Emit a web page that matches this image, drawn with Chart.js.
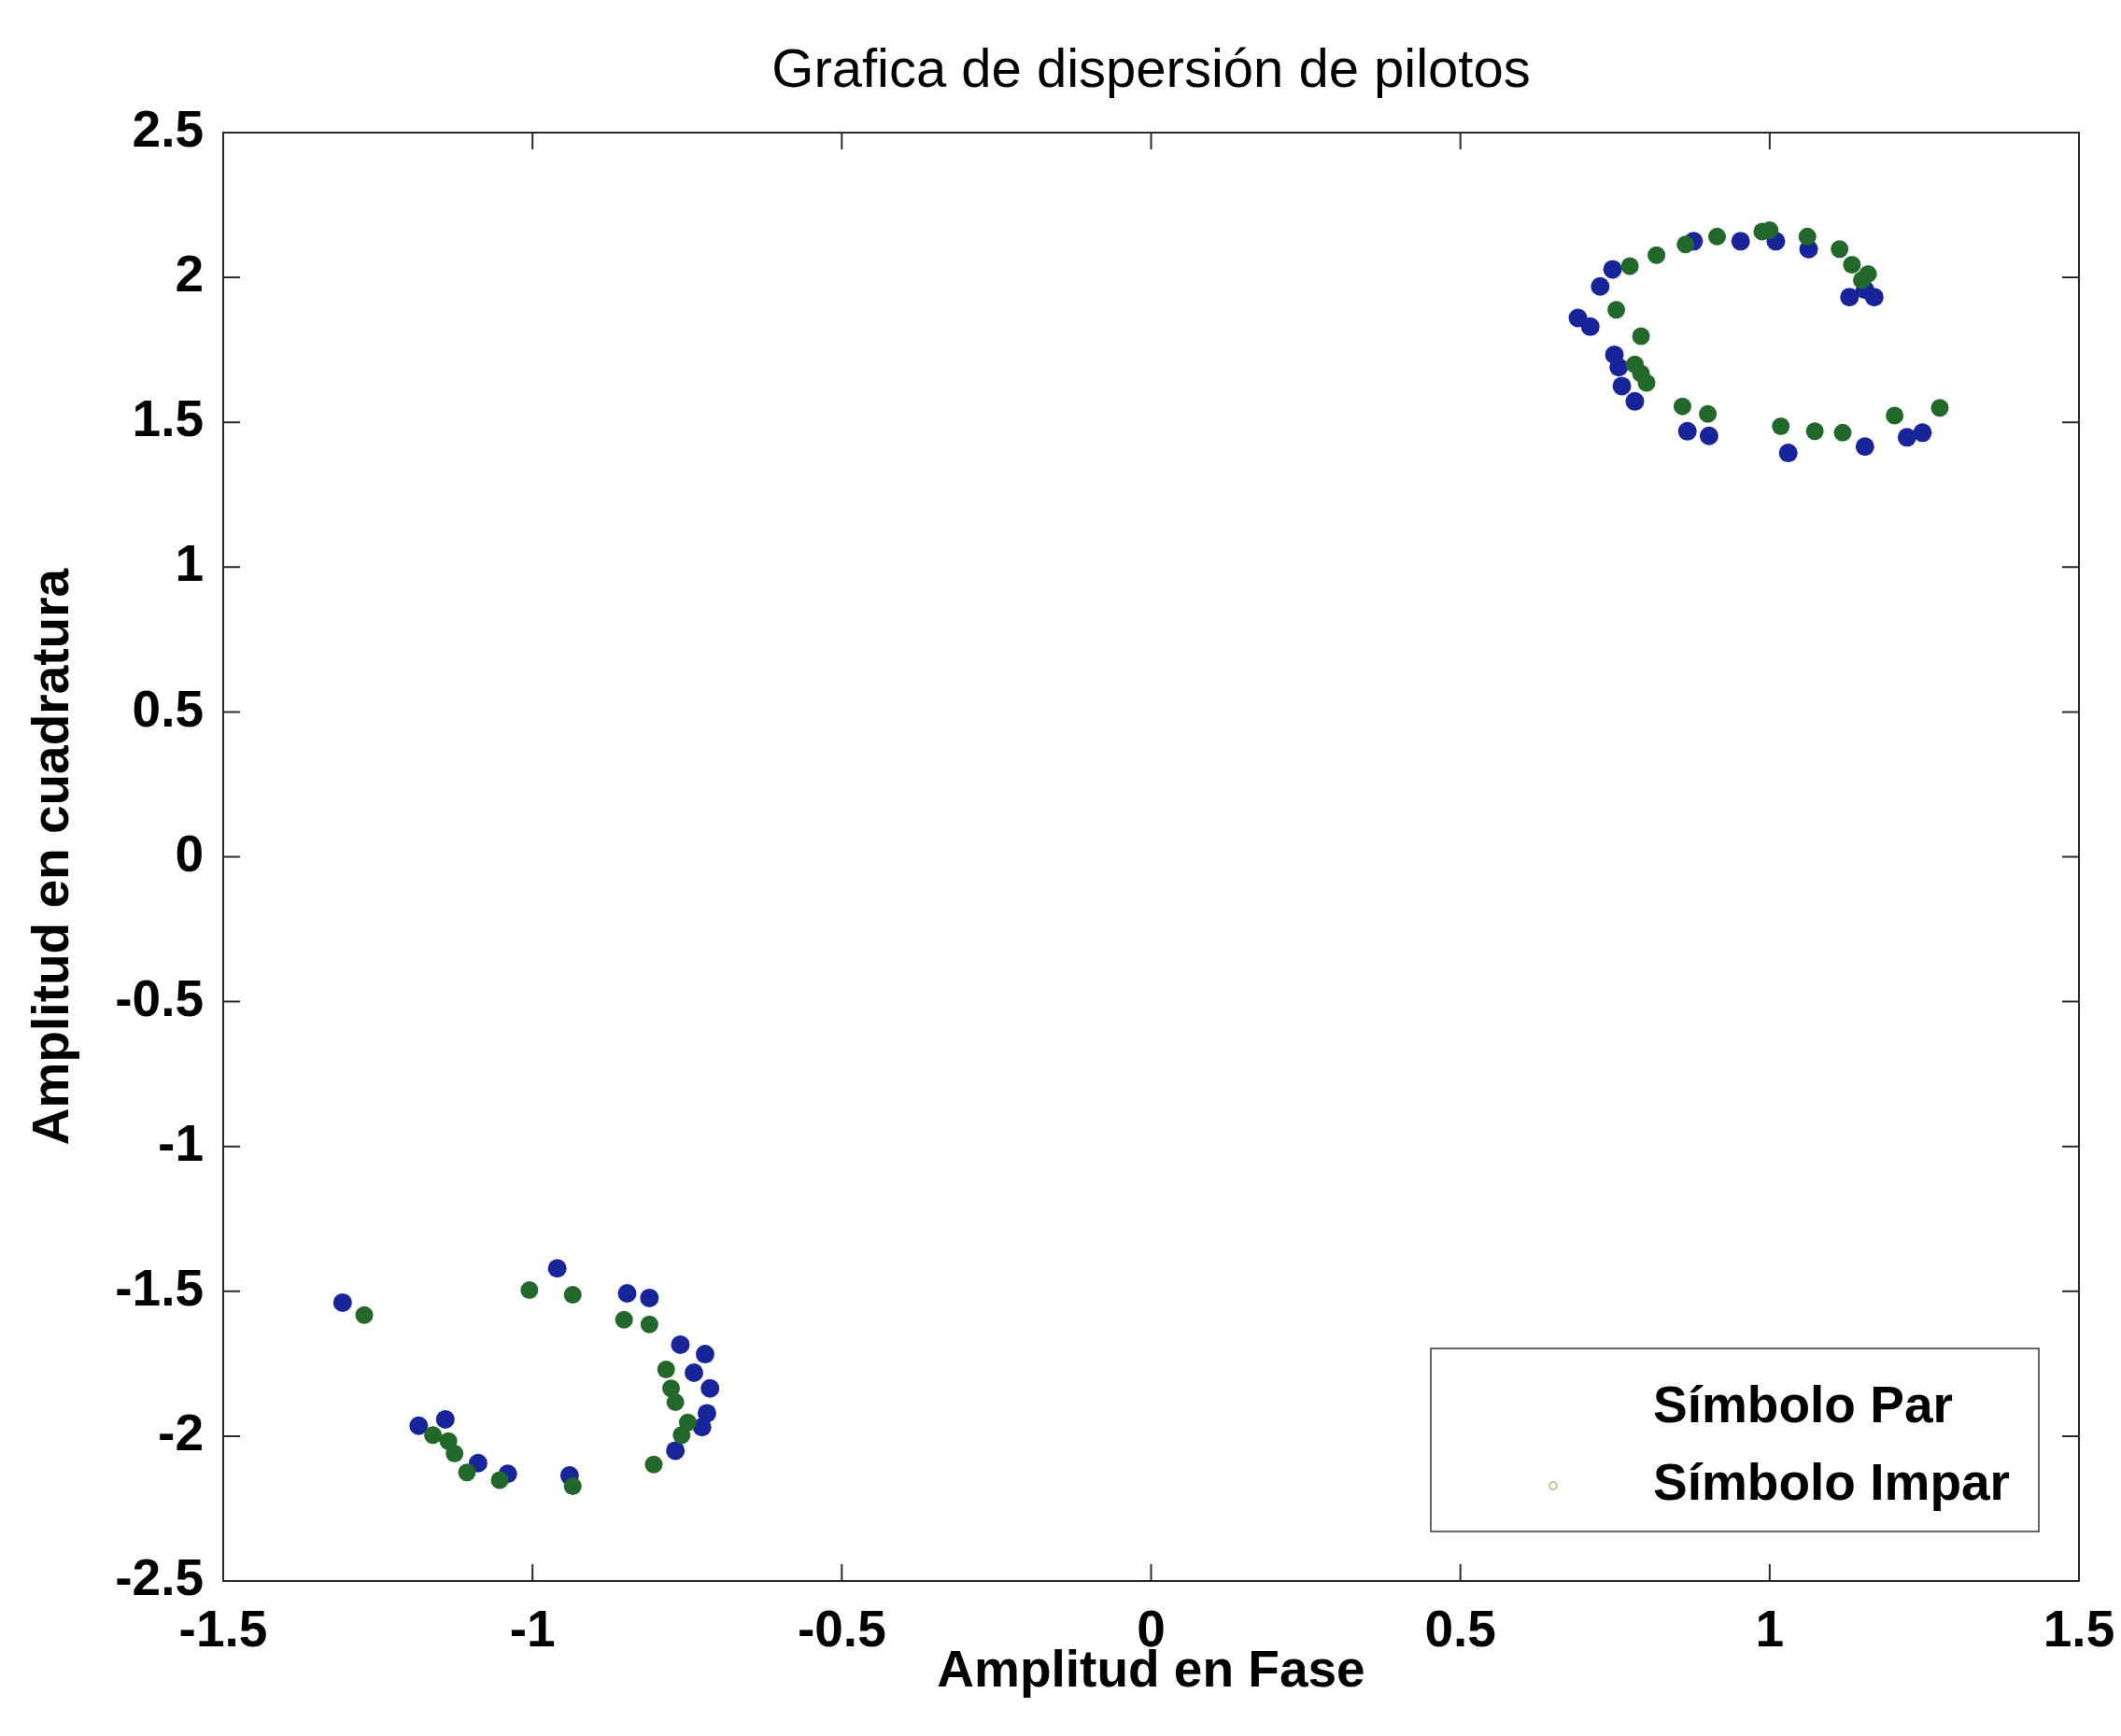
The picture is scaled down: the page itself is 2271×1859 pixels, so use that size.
<!DOCTYPE html>
<html>
<head>
<meta charset="utf-8">
<title>Grafica de dispersión de pilotos</title>
<script src="https://cdn.jsdelivr.net/npm/chart.js@4.4.1/dist/chart.umd.min.js"></script>
<style>
    html, body { margin: 0; padding: 0; background: #fff; }
    canvas { display: block; }
</style>
</head>
<body>
<canvas id="scatterChart" width="2271" height="1859"></canvas>
<script>
// Pilotos del símbolo par (azul)
const parX = [0.690, 0.710, 0.726, 0.746, 0.877, 0.953, 1.010, 1.063, 1.129, 1.169, 1.154,
              0.749, 0.756, 0.761, 0.782, 0.867, 0.902, 1.030, 1.154, 1.222, 1.247,
              -1.307, -0.960, -0.847, -0.811, -0.761, -0.721, -0.739, -0.713, -0.718, -0.726,
              -0.769, -1.184, -1.141, -1.088, -1.040, -0.940];
const parY = [1.860, 1.830, 1.969, 2.028, 2.125, 2.125, 2.125, 2.098, 1.932, 1.932, 1.958,
              1.733, 1.690, 1.625, 1.572, 1.469, 1.453, 1.394, 1.416, 1.448, 1.464,
              -1.539, -1.421, -1.507, -1.523, -1.684, -1.717, -1.781, -1.835, -1.921, -1.969,
              -2.050, -1.964, -1.942, -2.093, -2.130, -2.136];

// Pilotos del símbolo impar (verde)
const imparX = [0.774, 0.817, 0.864, 0.915, 0.988, 1.000, 1.061, 1.113, 1.133, 1.159, 1.149,
                0.752, 0.792, 0.782, 0.792, 0.801, 0.859, 0.900, 1.018, 1.073, 1.118, 1.202, 1.275,
                -1.272, -1.005, -0.935, -0.852, -0.811, -0.784, -0.776, -0.769, -0.749, -0.759,
                -0.804, -1.161, -1.136, -1.126, -1.106, -1.053, -0.935];
const imparY = [2.039, 2.077, 2.114, 2.141, 2.158, 2.163, 2.141, 2.098, 2.044, 2.012, 1.991,
                1.888, 1.797, 1.700, 1.668, 1.636, 1.555, 1.529, 1.486, 1.469, 1.464, 1.523, 1.550,
                -1.582, -1.496, -1.512, -1.598, -1.614, -1.770, -1.835, -1.883, -1.953, -1.996,
                -2.098, -1.996, -2.017, -2.060, -2.125, -2.152, -2.173];

const xTicks = [-1.5, -1, -0.5, 0, 0.5, 1, 1.5];
const yTicks = [-2.5, -2, -1.5, -1, -0.5, 0, 0.5, 1, 1.5, 2, 2.5];

const chartTitle = 'Grafica de dispersión de pilotos';
const xLabel = 'Amplitud en Fase';
const yLabel = 'Amplitud en cuadratura';
const seriesNames = ['Símbolo Par', 'Símbolo Impar'];

const FONT = '"Liberation Sans", Arial, Helvetica, sans-serif';
Chart.defaults.font.family = FONT;
Chart.defaults.color = '#000';

function toPoints(xs, ys) {
    return xs.map((x, i) => ({ x: x, y: ys[i] }));
}

// Box around the plot with inward ticks on all four sides
const frameTicks = {
    id: 'frameTicks',
    afterDraw(chart) {
        const { ctx, chartArea: a, scales } = chart;
        const len = 18;
        ctx.save();
        ctx.strokeStyle = '#2a2a2a';
        ctx.lineWidth = 2;
        ctx.strokeRect(a.left, a.top, a.right - a.left, a.bottom - a.top);
        ctx.beginPath();
        xTicks.forEach(v => {
            const px = scales.x.getPixelForValue(v);
            ctx.moveTo(px, a.bottom); ctx.lineTo(px, a.bottom - len);
            ctx.moveTo(px, a.top); ctx.lineTo(px, a.top + len);
        });
        yTicks.forEach(v => {
            const py = scales.y.getPixelForValue(v);
            ctx.moveTo(a.left, py); ctx.lineTo(a.left + len, py);
            ctx.moveTo(a.right, py); ctx.lineTo(a.right - len, py);
        });
        ctx.stroke();
        ctx.restore();
    }
};

// Title centred over the plot area
const plotTitle = {
    id: 'plotTitle',
    afterDraw(chart) {
        const { ctx, chartArea: a } = chart;
        ctx.save();
        ctx.font = '58px ' + FONT;
        ctx.fillStyle = '#000';
        ctx.textAlign = 'center';
        ctx.textBaseline = 'middle';
        ctx.fillText(chartTitle, (a.left + a.right) / 2, a.top - 65);
        ctx.restore();
    }
};

// Legend box in the lower right corner of the plot
const legendBox = {
    id: 'legendBox',
    afterDraw(chart) {
        const { ctx, chartArea: a } = chart;
        const w = 651, h = 196;
        const right = a.right - 43, bottom = a.bottom - 53;
        const left = right - w, top = bottom - h;
        ctx.save();
        ctx.fillStyle = '#fff';
        ctx.fillRect(left, top, w, h);
        ctx.strokeStyle = '#333';
        ctx.lineWidth = 1.5;
        ctx.strokeRect(left, top, w, h);

        ctx.font = 'bold 55px ' + FONT;
        ctx.fillStyle = '#000';
        ctx.textAlign = 'left';
        ctx.textBaseline = 'middle';
        const rows = [top + 64, top + 147];
        seriesNames.forEach((name, i) => {
            ctx.fillText(name, left + 238, rows[i]);
        });
        // faint marker next to the odd symbol entry
        ctx.beginPath();
        ctx.arc(left + 131, rows[1], 4, 0, Math.PI * 2);
        ctx.strokeStyle = '#b9c98f';
        ctx.lineWidth = 2;
        ctx.stroke();
        ctx.restore();
    }
};

const ctx = document.getElementById('scatterChart').getContext('2d');
new Chart(ctx, {
    type: 'scatter',
    data: {
        datasets: [{
            label: seriesNames[0],
            data: toPoints(parX, parY),
            backgroundColor: '#17249a',
            borderColor: '#17249a',
            pointRadius: 10,
            borderWidth: 0,
            order: 1
        }, {
            label: seriesNames[1],
            data: toPoints(imparX, imparY),
            backgroundColor: '#23682b',
            borderColor: '#23682b',
            pointRadius: 9.5,
            borderWidth: 0,
            order: 0
        }]
    },
    options: {
        responsive: false,
        animation: false,
        devicePixelRatio: 1,
        layout: { padding: { top: 142, right: 45, left: 0, bottom: 0 } },
        plugins: {
            legend: { display: false },
            title: { display: false },
            tooltip: { enabled: false }
        },
        scales: {
            x: {
                type: 'linear',
                min: -1.5,
                max: 1.5,
                afterBuildTicks: scale => { scale.ticks = xTicks.map(v => ({ value: v })); },
                afterFit: scale => { scale.height = 166; scale.paddingLeft = 0; scale.paddingRight = 0; },
                grid: { display: false, drawTicks: false },
                border: { display: false },
                ticks: {
                    autoSkip: false,
                    maxRotation: 0,
                    padding: 22,
                    color: '#000',
                    font: { size: 55, weight: 'bold' },
                    callback: v => String(v)
                },
                title: {
                    display: true,
                    text: xLabel,
                    color: '#000',
                    font: { size: 55, weight: 'bold' },
                    padding: { top: 0, bottom: 35 }
                }
            },
            y: {
                type: 'linear',
                min: -2.5,
                max: 2.5,
                afterBuildTicks: scale => { scale.ticks = yTicks.map(v => ({ value: v })); },
                afterFit: scale => { scale.width = 239; scale.paddingTop = 0; scale.paddingBottom = 0; },
                grid: { display: false, drawTicks: false },
                border: { display: false },
                ticks: {
                    autoSkip: false,
                    padding: 21,
                    color: '#000',
                    font: { size: 55, weight: 'bold' },
                    callback: v => String(v)
                },
                title: {
                    display: true,
                    text: yLabel,
                    color: '#000',
                    font: { size: 55, weight: 'bold' },
                    padding: { top: 25, bottom: 0 }
                }
            }
        }
    },
    plugins: [frameTicks, plotTitle, legendBox]
});
</script>
</body>
</html>
